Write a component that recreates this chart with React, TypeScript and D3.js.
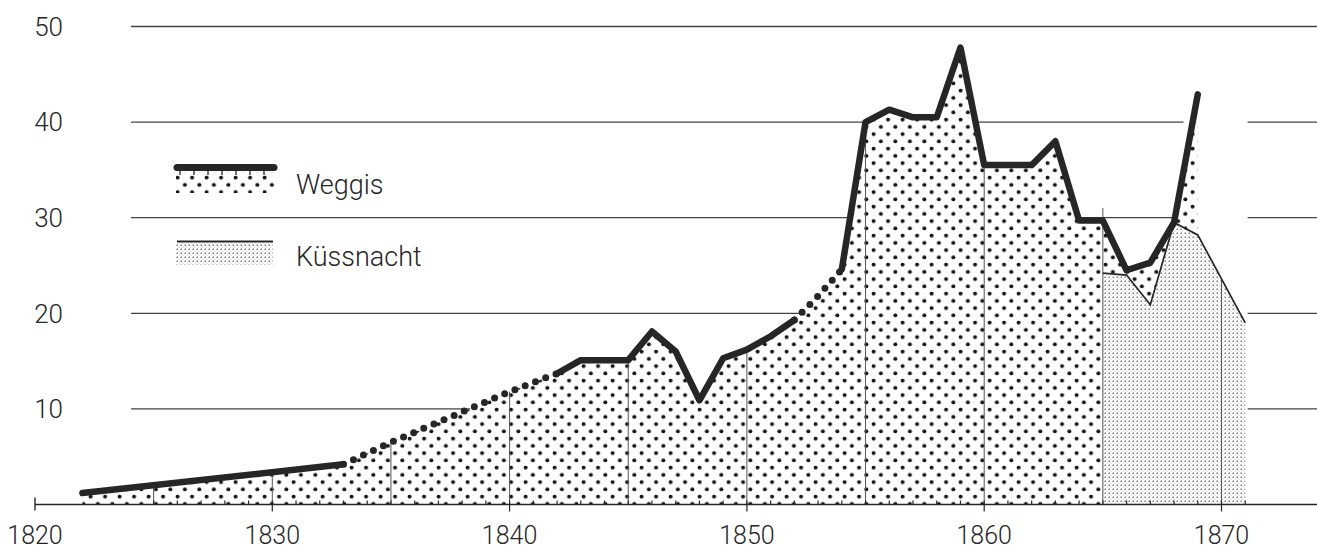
import React from "react";
import * as d3 from "d3";

// Weggis (thick line, coarse dots)
const weggisYears = [
  1822, 1833, 1835, 1840, 1842, 1843, 1844, 1845, 1846, 1847, 1848, 1849, 1850,
  1851, 1852, 1853, 1854, 1855, 1856, 1857, 1858, 1859, 1860, 1861, 1862, 1863,
  1864, 1865, 1866, 1867, 1868, 1869,
];
const weggisValues = [
  1.2, 4.2, 6.5, 11.8, 13.7, 15.1, 15.1, 15.1, 18.1, 16.0, 10.9, 15.3, 16.2,
  17.6, 19.3, 21.8, 24.6, 40.0, 41.3, 40.5, 40.5, 47.8, 35.5, 35.5, 35.5, 38.0,
  29.7, 29.7, 24.5, 25.3, 29.5, 42.9,
];
// stretches of the Weggis line drawn dotted (estimated years)
const weggisDotted = [
  [1833, 1842],
  [1852, 1854],
];

// Küssnacht (thin line, fine stipple)
const kussYears = [1865, 1866, 1867, 1868, 1869, 1871];
const kussValues = [24.2, 24.0, 20.9, 29.5, 28.2, 19.0];

const yTicks = [10, 20, 30, 40, 50];
const xTicks = [1820, 1830, 1840, 1850, 1860, 1870];
const legendLabels = ["Weggis", "Küssnacht"];

const W = 1317;
const H = 549;
const FONT = "Roboto, 'Liberation Sans', sans-serif";
const INK = "#262626";

const App = () => {
  // Scales
  const x = d3.scaleLinear().domain([1820, 1870]).range([35, 1221.5]);
  const y = d3.scaleLinear().domain([0, 50]).range([504.5, 26.5]);

  const weggis = weggisYears.map((yr, i) => ({ yr, v: weggisValues[i] }));
  const kuss = kussYears.map((yr, i) => ({ yr, v: kussValues[i] }));

  const line = d3
    .line<{ yr: number; v: number }>()
    .x((d) => x(d.yr))
    .y((d) => y(d.v));
  const area = d3
    .area<{ yr: number; v: number }>()
    .x((d) => x(d.yr))
    .y0(y(0))
    .y1((d) => y(d.v));

  // split Weggis into solid / dotted runs
  const isDotted = (a: number, b: number) =>
    weggisDotted.some(([s, e]) => a >= s && b <= e);
  const runs: { dotted: boolean; pts: { yr: number; v: number }[] }[] = [];
  for (let i = 0; i < weggis.length - 1; i++) {
    const dotted = isDotted(weggis[i].yr, weggis[i + 1].yr);
    const last = runs[runs.length - 1];
    if (last && last.dotted === dotted) last.pts.push(weggis[i + 1]);
    else runs.push({ dotted, pts: [weggis[i], weggis[i + 1]] });
  }

  // top of the filled areas for the 5-year verticals
  const weggisAt = d3.scaleLinear().domain(weggisYears).range(weggisValues);
  const kussAt = d3.scaleLinear().domain(kussYears).range(kussValues);
  const topAt = (yr: number) => {
    const wv =
      yr >= weggisYears[0] && yr <= weggisYears[weggisYears.length - 1]
        ? weggisAt(yr)
        : 0;
    const kv =
      yr >= kussYears[0] && yr <= kussYears[kussYears.length - 1]
        ? kussAt(yr)
        : 0;
    return Math.max(wv, kv);
  };

  const fives = d3.range(1825, 1871, 5);
  const years = d3.range(1825, 1872);
  const combs = d3.range(180, 275, 14);

  return (
    <svg
      width={W}
      height={H}
      style={{ position: "absolute", left: 0, top: 0, background: "#fff" }}
    >
      <defs>
        <pattern
          id="coarse"
          patternUnits="userSpaceOnUse"
          width={14.5}
          height={14.5}
        >
          <circle cx={3.6} cy={3.6} r={2} fill="#111" />
          <circle cx={10.85} cy={10.85} r={2} fill="#111" />
        </pattern>
        <pattern id="fine" patternUnits="userSpaceOnUse" width={4} height={4}>
          <rect width={4} height={4} fill="#fff" />
          <rect x={0.5} y={0.5} width={1.5} height={1.5} fill="#808080" />
          <rect x={2.5} y={2.5} width={1} height={1} fill="#b8b8b8" />
        </pattern>
      </defs>

      {/* grid lines */}
      {yTicks.map((t) => (
        <line
          key={"g" + t}
          x1={131}
          x2={W}
          y1={y(t)}
          y2={y(t)}
          stroke="#444"
          strokeWidth={1.3}
        />
      ))}
      {/* gridlines break right of the last Weggis year */}
      <rect
        x={x(1868.4)}
        y={y(45)}
        width={x(1871.1) - x(1868.4)}
        height={y(0) - y(45) - 2}
        fill="#fff"
      />

      {/* areas */}
      <path d={area(weggis) || ""} fill="#fff" />
      <path d={area(weggis) || ""} fill="url(#coarse)" />
      <path d={area(kuss) || ""} fill="url(#fine)" />

      {/* 5-year verticals */}
      {fives.map((yr) => (
        <line
          key={"v" + yr}
          x1={x(yr)}
          x2={x(yr)}
          y1={y(0)}
          y2={y(yr === 1865 ? 31 : topAt(yr))}
          stroke="#555"
          strokeWidth={1}
        />
      ))}

      {/* x axis */}
      <line x1={x(1820)} x2={W} y1={y(0)} y2={y(0)} stroke={INK} strokeWidth={1.6} />
      <line x1={x(1820)} x2={x(1820)} y1={y(0) - 7} y2={y(0) + 6} stroke={INK} strokeWidth={1.4} />
      {years.map((yr) => (
        <line
          key={"t" + yr}
          x1={x(yr)}
          x2={x(yr)}
          y1={y(0) - 4}
          y2={yr % 10 === 0 ? y(0) + 7 : y(0)}
          stroke={INK}
          strokeWidth={1.2}
        />
      ))}

      {/* Küssnacht line */}
      <path d={line(kuss) || ""} fill="none" stroke={INK} strokeWidth={1.7} />

      {/* Weggis line */}
      {runs.map((r, i) => (
        <path
          key={"r" + i}
          d={line(r.pts) || ""}
          fill="none"
          stroke={INK}
          strokeWidth={r.dotted ? 7 : 6.5}
          strokeLinecap="round"
          strokeLinejoin="round"
          strokeDasharray={r.dotted ? "0 11" : undefined}
        />
      ))}

      {/* y labels */}
      {yTicks.map((t) => (
        <text
          key={"yl" + t}
          x={63}
          y={y(t)}
          dy="0.36em"
          textAnchor="end"
          fontFamily={FONT}
          fontWeight={300}
          fontSize={26}
          fill={INK}
        >
          {t}
        </text>
      ))}

      {/* x labels */}
      {xTicks.map((t) => (
        <text
          key={"xl" + t}
          x={x(t)}
          y={544}
          textAnchor="middle"
          fontFamily={FONT}
          fontWeight={300}
          fontSize={25}
          fill={INK}
        >
          {t}
        </text>
      ))}

      {/* legend */}
      <g>
        <rect x={176} y={172} width={99} height={21} fill="url(#coarse)" />
        <line x1={177} x2={274} y1={167.5} y2={167.5} stroke={INK} strokeWidth={7} strokeLinecap="round" />
        {combs.map((cx) => (
          <line key={"c" + cx} x1={cx} x2={cx} y1={170} y2={175} stroke={INK} strokeWidth={1.3} />
        ))}
        <text x={296} y={194} fontFamily={FONT} fontWeight={300} fontSize={27} fill={INK}>
          {legendLabels[0]}
        </text>
        <rect x={176} y={243} width={97} height={22} fill="url(#fine)" />
        <line x1={177} x2={273} y1={241.5} y2={241.5} stroke={INK} strokeWidth={2.2} />
        <text x={296} y={266} fontFamily={FONT} fontWeight={300} fontSize={27} fill={INK}>
          {legendLabels[1]}
        </text>
      </g>
    </svg>
  );
};

export default App;
